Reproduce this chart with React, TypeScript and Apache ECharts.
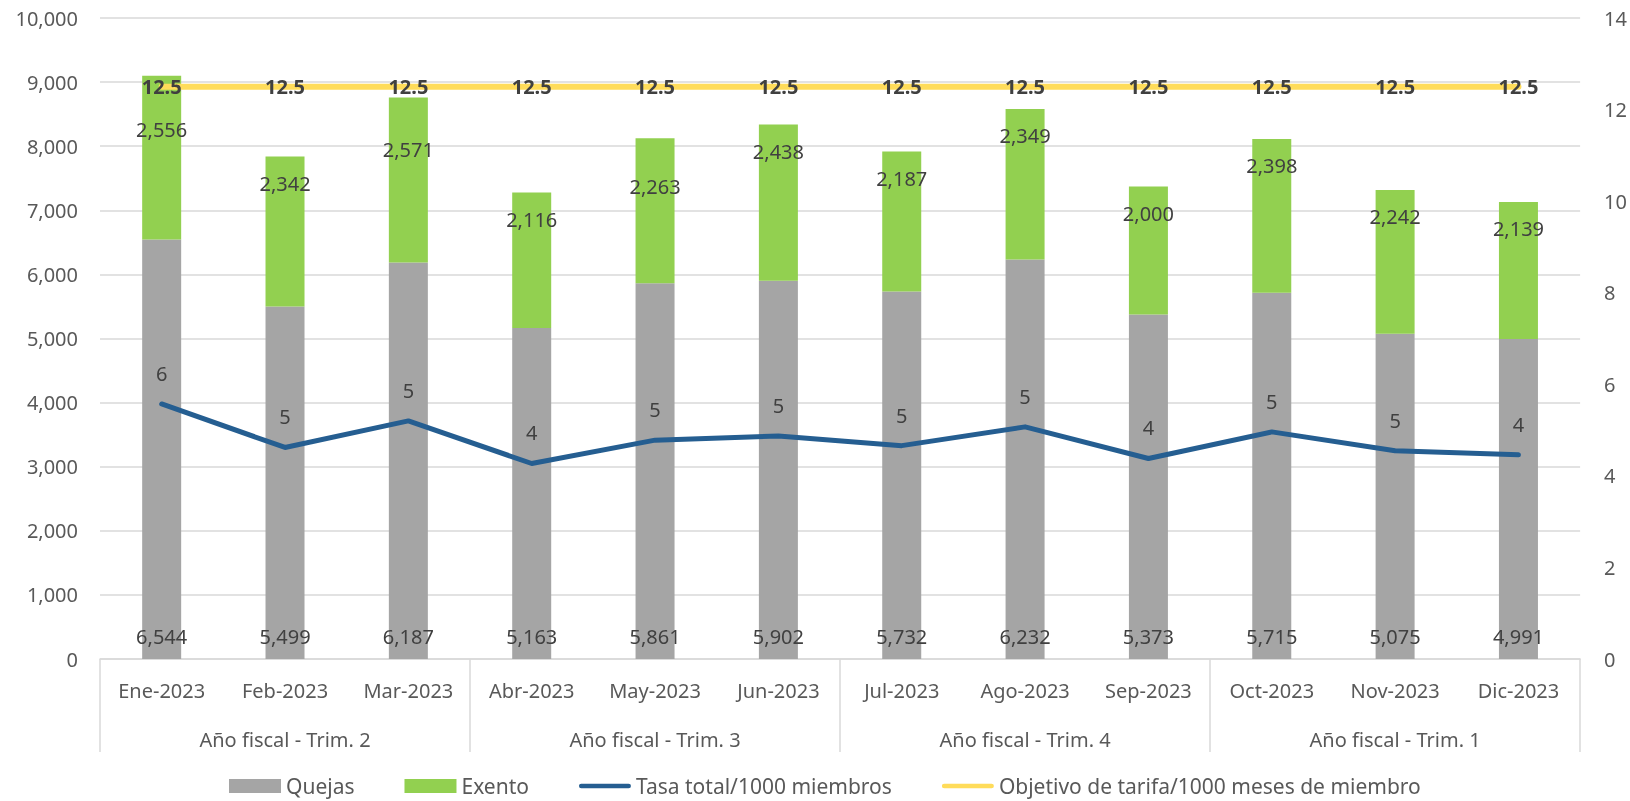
import React, { useEffect, useRef } from "react";
import * as echarts from "echarts";

const months = ["Ene-2023", "Feb-2023", "Mar-2023", "Abr-2023", "May-2023", "Jun-2023", "Jul-2023", "Ago-2023", "Sep-2023", "Oct-2023", "Nov-2023", "Dic-2023"];
const quarters = ["Año fiscal - Trim. 2", "Año fiscal - Trim. 3", "Año fiscal - Trim. 4", "Año fiscal - Trim. 1"];
const quejas = [6544, 5499, 6187, 5163, 5861, 5902, 5732, 6232, 5373, 5715, 5075, 4991];
const exento = [2556, 2342, 2571, 2116, 2263, 2438, 2187, 2349, 2000, 2398, 2242, 2139];
const tasa = [5.57, 4.62, 5.2, 4.27, 4.78, 4.87, 4.66, 5.07, 4.38, 4.96, 4.55, 4.46];
const objetivo = [12.5, 12.5, 12.5, 12.5, 12.5, 12.5, 12.5, 12.5, 12.5, 12.5, 12.5, 12.5];

// extra downward nudge of some Exento labels (label styling only)
const exentoLabelNudge = [27, 0, 25, 0, 21, 0, 0, 0, 0, 0, 0, 0];

const FONT = "'Noto Sans', sans-serif";
const AXIS_C = "#595959";
const LABEL_C = "#404040";
const GRID_C = "#d9d9d9";
const LINE_ICON = "path://M2.5,0 L53.5,0 A2.5,2.5 0 0 1 53.5,5 L2.5,5 A2.5,2.5 0 0 1 2.5,0 Z";

export default function App() {
  const ref = useRef<HTMLDivElement>(null);
  useEffect(() => {
    if (!ref.current) return;
    const chart = echarts.init(ref.current, null, { renderer: "svg" });
    const fmt = (v: number) => Number(v).toLocaleString("en-US");
    chart.setOption({
      animation: false,
      textStyle: { fontFamily: FONT },
      grid: { left: 100, right: 48, top: 18, bottom: 142, containLabel: false },
      legend: {
        top: 775,
        left: 229,
        padding: 0,
        itemWidth: 52,
        itemHeight: 14,
        itemGap: 50,
        textStyle: { fontSize: 21, lineHeight: 22, color: AXIS_C, fontFamily: FONT },
        data: [
          { name: "Quejas", icon: "rect" },
          { name: "Exento", icon: "rect" },
          { name: "Tasa total/1000 miembros", icon: LINE_ICON },
          { name: "Objetivo de tarifa/1000 meses de miembro", icon: LINE_ICON },
        ],
      },
      xAxis: [
        {
          type: "category",
          data: months,
          position: "bottom",
          axisLine: { show: true, lineStyle: { color: GRID_C, width: 1.5 } },
          axisTick: { show: false },
          axisLabel: { fontSize: 20, color: AXIS_C, margin: 21, interval: 0 },
        },
        {
          type: "category",
          data: quarters,
          position: "bottom",
          offset: 0,
          axisLine: { show: false },
          axisTick: { show: true, length: 93, lineStyle: { color: GRID_C, width: 1.5 } },
          axisLabel: { fontSize: 20, color: AXIS_C, margin: 70, interval: 0 },
          splitLine: { show: false },
        },
      ],
      yAxis: [
        {
          type: "value",
          min: 0,
          max: 10000,
          interval: 1000,
          axisLine: { show: false },
          axisTick: { show: false },
          axisLabel: { fontSize: 20, color: AXIS_C, margin: 22, formatter: (v: number) => fmt(v) },
          splitLine: { show: true, lineStyle: { color: GRID_C, width: 1.5 } },
        },
        {
          type: "value",
          min: 0,
          max: 14,
          interval: 2,
          position: "right",
          axisLine: { show: false },
          axisTick: { show: false },
          axisLabel: { fontSize: 20, color: AXIS_C, margin: 24 },
          splitLine: { show: false },
        },
      ],
      series: [
        {
          name: "Quejas",
          type: "bar",
          stack: "a",
          data: quejas,
          barWidth: 39,
          itemStyle: { color: "#a5a5a5" },
          label: {
            show: true,
            position: "insideBottom",
            distance: 13,
            fontSize: 20,
            color: LABEL_C,
            formatter: (p: any) => fmt(p.value),
          },
          z: 2,
        },
        {
          name: "Exento",
          type: "bar",
          stack: "a",
          data: exento.map((v, i) => ({
            value: v,
            label: { offset: [0, exentoLabelNudge[i]] },
          })),
          barWidth: 39,
          itemStyle: { color: "#92d050" },
          label: {
            show: true,
            position: "insideTop",
            distance: 17,
            fontSize: 20,
            color: LABEL_C,
            formatter: (p: any) => fmt(p.value),
          },
          z: 2,
        },
        {
          name: "Tasa total/1000 miembros",
          type: "line",
          yAxisIndex: 1,
          data: tasa,
          symbol: "circle",
          symbolSize: 1,
          itemStyle: { color: "#255e91" },
          lineStyle: { color: "#255e91", width: 5, cap: "round", join: "round" },
          label: {
            show: true,
            position: "top",
            distance: 20,
            fontSize: 20,
            color: LABEL_C,
            formatter: (p: any) => String(Math.round(p.value)),
          },
          z: 4,
        },
        {
          name: "Objetivo de tarifa/1000 meses de miembro",
          type: "line",
          yAxisIndex: 1,
          data: objetivo,
          symbol: "circle",
          symbolSize: 1,
          itemStyle: { color: "#ffdc5a" },
          lineStyle: { color: "#ffdc5a", width: 6, cap: "round" },
          label: {
            show: true,
            position: "inside",
            fontSize: 20,
            fontWeight: "bold",
            color: LABEL_C,
            formatter: (p: any) => String(p.value),
          },
          z: 5,
        },
      ],
    });
    return () => chart.dispose();
  }, []);
  return <div ref={ref} style={{ position: "fixed", left: 0, top: 0, width: 1630, height: 801 }} />;
}
